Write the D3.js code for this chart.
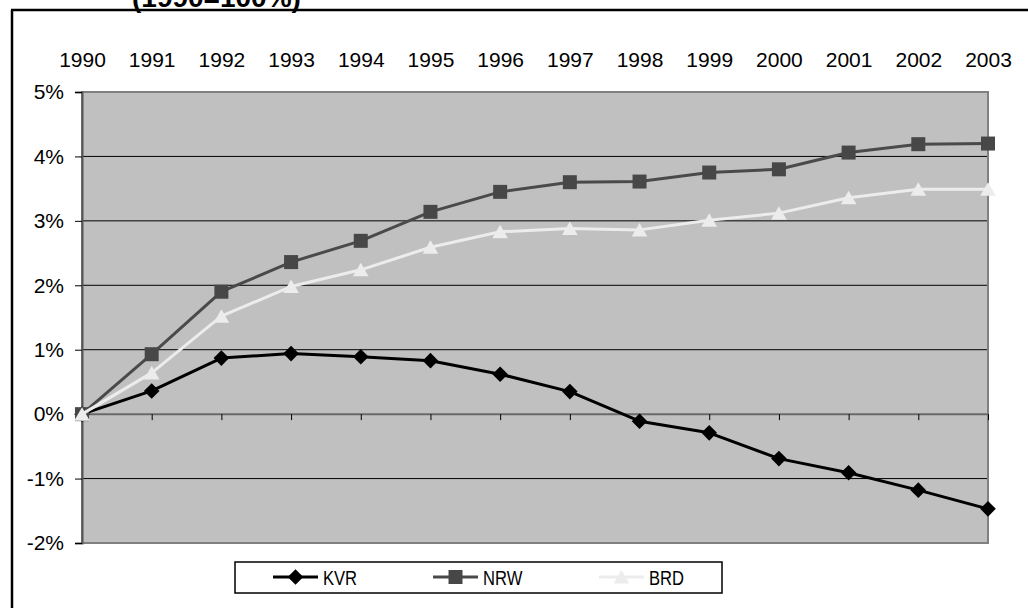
<!DOCTYPE html>
<html>
<head>
<meta charset="utf-8">
<script src="https://cdn.jsdelivr.net/npm/d3@7/dist/d3.min.js"></script>
<style>
  html, body { margin: 0; padding: 0; background: #fff; }
  svg { display: block; }
  text { font-family: Arial, "Liberation Sans", sans-serif; fill: #000; }
</style>
</head>
<body>
<svg id="chart" width="1028" height="608"></svg>
<script>
// Population change relative to 1990, in percent
const years = ["1990","1991","1992","1993","1994","1995","1996","1997","1998","1999","2000","2001","2002","2003"];
const kvr = [0, 0.36, 0.87, 0.94, 0.89, 0.83, 0.62, 0.35, -0.11, -0.29, -0.69, -0.91, -1.18, -1.47];
const nrw = [0, 0.93, 1.90, 2.36, 2.69, 3.14, 3.45, 3.60, 3.61, 3.75, 3.80, 4.06, 4.19, 4.20];
const brd = [0, 0.64, 1.52, 1.98, 2.24, 2.59, 2.83, 2.88, 2.86, 3.01, 3.12, 3.36, 3.49, 3.49];
const yTicks = [-2, -1, 0, 1, 2, 3, 4, 5];
const seriesNames = ["KVR", "NRW", "BRD"];
const titleText = "(1990=100%)";

const svg = d3.select("#chart");

const plot = { left: 82, right: 988, top: 92, bottom: 543 };

const x = d3.scalePoint().domain(years).range([plot.left, plot.right]).padding(0);
const y = d3.scaleLinear().domain([-2, 5]).range([plot.bottom, plot.top]);

// Outer frame (left and top edges) and the title line running off the top
svg.append("line").attr("x1", 12).attr("x2", 12).attr("y1", 10).attr("y2", 608)
  .attr("stroke", "#000").attr("stroke-width", 2.5);
svg.append("line").attr("x1", 11).attr("x2", 1028).attr("y1", 10).attr("y2", 10)
  .attr("stroke", "#000").attr("stroke-width", 2.5);
svg.append("text").attr("x", 132).attr("y", 6.5)
  .attr("font-size", 28).attr("font-weight", "bold").text(titleText);

// Plot background
svg.append("rect")
  .attr("x", plot.left).attr("y", plot.top)
  .attr("width", plot.right - plot.left).attr("height", plot.bottom - plot.top)
  .attr("fill", "#c0c0c0");

// Horizontal gridlines
svg.append("g").selectAll("line")
  .data(yTicks.filter(v => v !== 0 && v !== -2 && v !== 5))
  .join("line")
  .attr("x1", plot.left).attr("x2", plot.right)
  .attr("y1", d => y(d)).attr("y2", d => y(d))
  .attr("stroke", "#000").attr("stroke-width", 1);

// Plot border
svg.append("rect")
  .attr("x", plot.left).attr("y", plot.top)
  .attr("width", plot.right - plot.left).attr("height", plot.bottom - plot.top)
  .attr("fill", "none").attr("stroke", "#808080").attr("stroke-width", 2);

// Y axis
const yAxis = svg.append("g")
  .attr("transform", `translate(${plot.left},0)`)
  .call(d3.axisLeft(y).tickValues(yTicks).tickSize(7).tickPadding(11).tickFormat(d => d + "%"));
yAxis.select(".domain").attr("stroke", "#555").attr("stroke-width", 2);
yAxis.selectAll(".tick line").attr("stroke", "#000");
yAxis.selectAll("text").attr("font-size", 21).attr("font-family", "Arial, 'Liberation Sans', sans-serif");

// X axis along the zero line (ticks only)
const xAxis = svg.append("g")
  .attr("transform", `translate(0,${y(0)})`)
  .call(d3.axisBottom(x).tickSize(6).tickFormat(""));
xAxis.select(".domain").attr("stroke", "#6a6a6a").attr("stroke-width", 2)
  .attr("d", `M${plot.left},0H${plot.right}`);
xAxis.selectAll(".tick line").attr("stroke", "#000");

// Year labels above the plot
const xTop = svg.append("g")
  .attr("transform", `translate(0,${plot.top})`)
  .call(d3.axisTop(x).tickSize(0).tickPadding(25));
xTop.select(".domain").remove();
xTop.selectAll("text").attr("font-size", 21).attr("font-family", "Arial, 'Liberation Sans', sans-serif");

// Marker shapes
const diamondPath = "M0,-7.8L7.8,0L0,7.8L-7.8,0Z";
const squarePath = "M-7,-7H7V7H-7Z";
const trianglePath = "M0,-7L7.8,6.5L-7.8,6.5Z";

const series = [
  { name: seriesNames[0], values: kvr, color: "#000000", markerColor: "#000000", marker: diamondPath },
  { name: seriesNames[1], values: nrw, color: "#4a4a4a", markerColor: "#474747", marker: squarePath },
  { name: seriesNames[2], values: brd, color: "#ececec", markerColor: "#ececec", marker: trianglePath }
];

const line = d3.line().x((d, i) => x(years[i])).y(d => y(d));

// Series drawn in order; later series sit on top
series.forEach(s => {
  svg.append("path")
    .attr("d", line(s.values))
    .attr("fill", "none")
    .attr("stroke", s.color)
    .attr("stroke-width", 3)
    .attr("stroke-linejoin", "round");
  svg.append("g").selectAll("path")
    .data(s.values)
    .join("path")
    .attr("transform", (d, i) => `translate(${x(years[i])},${y(d)})`)
    .attr("d", s.marker)
    .attr("fill", s.markerColor);
});

// Legend
const legend = svg.append("g");
legend.append("rect")
  .attr("x", 235).attr("y", 562).attr("width", 487).attr("height", 31)
  .attr("fill", "#fff").attr("stroke", "#000").attr("stroke-width", 1.5);
const legendX = [273, 433, 599];
series.forEach((s, i) => {
  const lx = legendX[i];
  const g = legend.append("g");
  g.append("line").attr("x1", lx).attr("x2", lx + 45).attr("y1", 577).attr("y2", 577)
    .attr("stroke", s.color).attr("stroke-width", 3);
  g.append("path").attr("transform", `translate(${lx + 22.5},577)`)
    .attr("d", s.marker).attr("fill", s.markerColor);
  g.append("text")
    .attr("transform", `translate(${lx + 50},584.5) scale(0.79,1)`)
    .attr("font-size", 21)
    .text(s.name);
});
</script>
</body>
</html>
